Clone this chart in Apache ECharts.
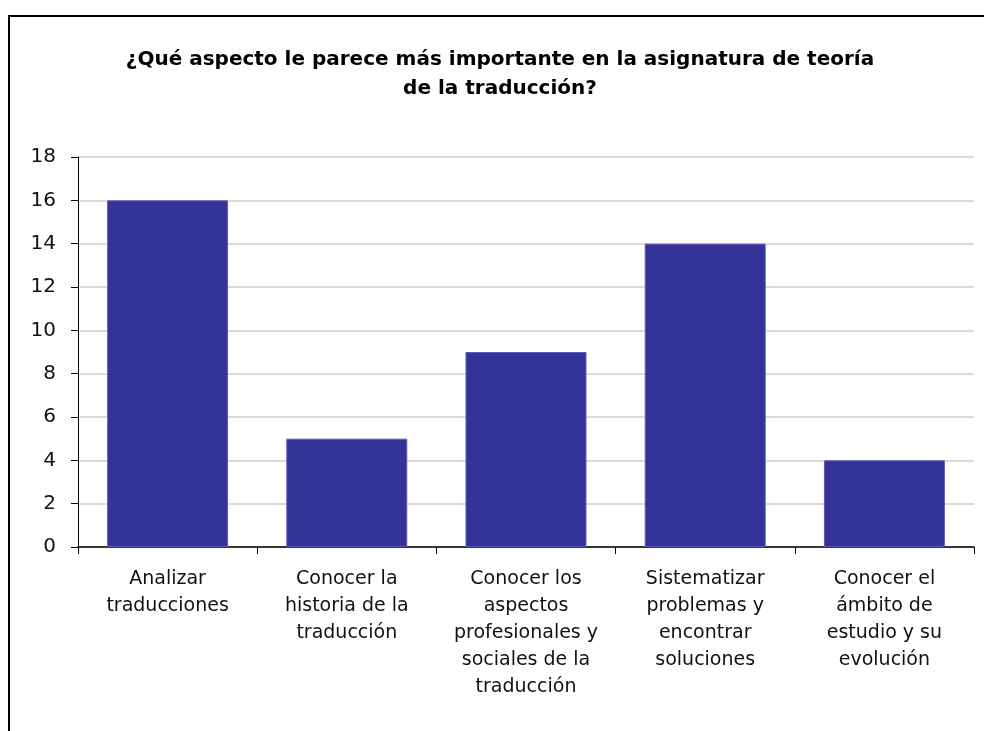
<!DOCTYPE html>
<html>
<head>
<meta charset="utf-8">
<script src="https://cdn.jsdelivr.net/npm/echarts@6/dist/echarts.min.js"></script>
<style>
    html, body { margin: 0; padding: 0; background: #fff; overflow: hidden; }
    #chart { position: absolute; left: 0; top: 0; width: 984px; height: 731px; }
</style>
</head>
<body>
<div id="chart"></div>
<script>
    // categorías del eje x
    const categories = [
        'Analizar\ntraducciones',
        'Conocer la\nhistoria de la\ntraducción',
        'Conocer los\naspectos\nprofesionales y\nsociales de la\ntraducción',
        'Sistematizar\nproblemas y\nencontrar\nsoluciones',
        'Conocer el\námbito de\nestudio y su\nevolución'
    ]
    const values = [16, 5, 9, 14, 4]
    const yTicks = [0, 2, 4, 6, 8, 10, 12, 14, 16, 18]

    const myChart = echarts.init(document.getElementById('chart'))

    const font = 'Tahoma, "DejaVu Sans", sans-serif'

    const option = {
        // marco del gráfico (solo izquierda y arriba)
        graphic: [
            {
                type: 'polyline',
                shape: { points: [[9, 740], [9, 16], [1000, 16]] },
                style: { stroke: '#000', lineWidth: 2, fill: null },
                silent: true
            }
        ],
        title: {
            text: '¿Qué aspecto le parece más importante en la asignatura de teoría\nde la traducción?',
            left: 495,
            top: 40,
            textAlign: 'center',
            textStyle: {
                fontFamily: font,
                fontWeight: 'bold',
                fontSize: 20,
                lineHeight: 29,
                color: '#000'
            }
        },
        grid: {
            left: 78,
            right: 10,
            top: 157,
            bottom: 184
        },
        xAxis: {
            type: 'category',
            data: categories,
            // línea del eje
            axisLine: {
                show: true,
                lineStyle: { color: '#000', width: 1.5 }
            },
            axisTick: {
                show: true,
                length: 7,
                lineStyle: { color: '#000' }
            },
            axisLabel: {
                interval: 0,
                margin: 19,
                fontFamily: font,
                fontSize: 19,
                lineHeight: 27,
                color: '#111'
            }
        },
        yAxis: {
            type: 'value',
            min: yTicks[0],
            max: yTicks[yTicks.length - 1],
            interval: 2,
            axisLine: {
                show: true,
                lineStyle: { color: '#000', width: 1 }
            },
            axisTick: {
                show: true,
                length: 7,
                lineStyle: { color: '#000' }
            },
            axisLabel: {
                margin: 22,
                fontFamily: font,
                fontSize: 20,
                color: '#111'
            },
            // líneas horizontales
            splitLine: {
                show: true,
                lineStyle: { color: '#cfcfcf', width: 1.5 }
            }
        },
        series: [
            {
                type: 'bar',
                data: values,
                barWidth: '67.5%',
                itemStyle: {
                    color: '#333399',
                    borderColor: '#5a5ab8',
                    borderWidth: 1
                },
                silent: true
            }
        ],
        animation: false
    }

    myChart.setOption(option)
</script>
</body>
</html>
